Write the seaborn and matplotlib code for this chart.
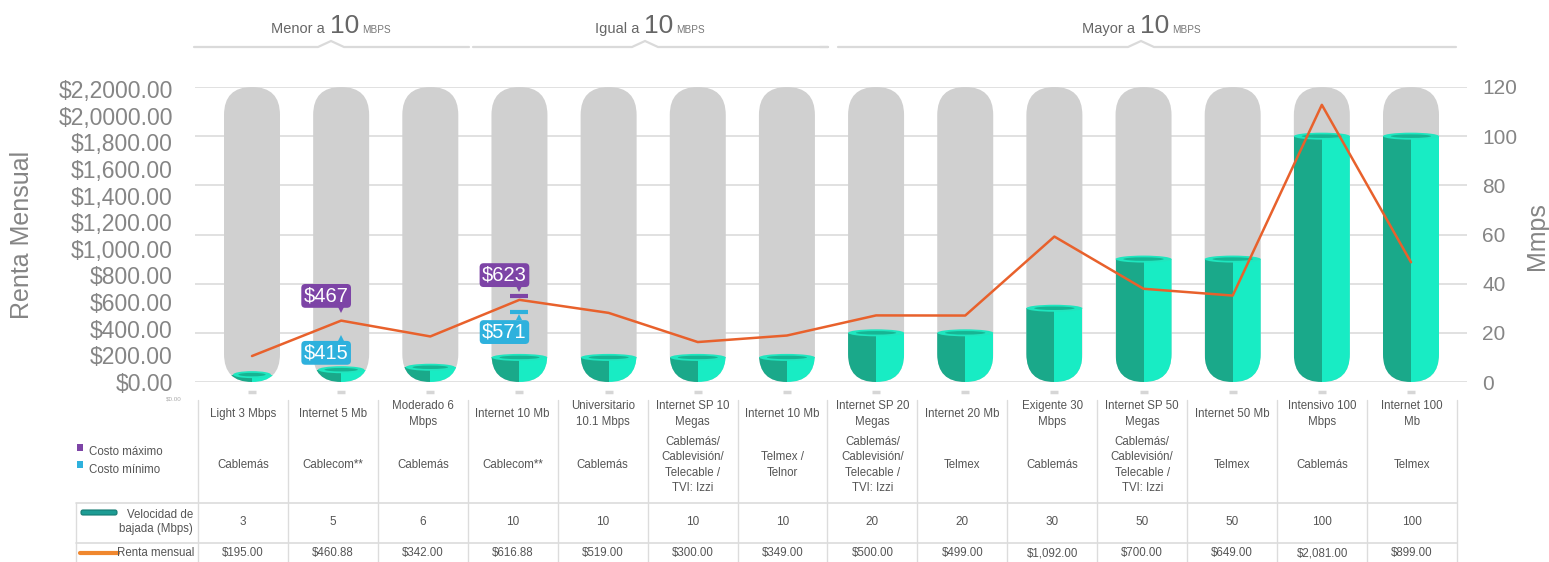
import numpy as np
import pandas as pd
import matplotlib
matplotlib.use("Agg")
import matplotlib.pyplot as plt
import matplotlib.transforms as mtransforms
import seaborn as sns
from matplotlib.patches import FancyBboxPatch, Ellipse, Rectangle

# ---- datos ----
planes = ["Light 3 Mbps", "Internet 5 Mb", "Moderado 6\nMbps", "Internet 10 Mb",
          "Universitario\n10.1 Mbps", "Internet SP 10\nMegas", "Internet 10 Mb",
          "Internet SP 20\nMegas", "Internet 20 Mb", "Exigente 30\nMbps",
          "Internet SP 50\nMegas", "Internet 50 Mb", "Intensivo 100\nMbps", "Internet 100\nMb"]
izzi = "Cablemás/\nCablevisión/\nTelecable /\nTVI: Izzi"
empresas = ["Cablemás", "Cablecom**", "Cablemás", "Cablecom**", "Cablemás", izzi,
            "Telmex /\nTelnor", izzi, "Telmex", "Cablemás", izzi, "Telmex", "Cablemás", "Telmex"]
velocidad = [3, 5, 6, 10, 10, 10, 10, 20, 20, 30, 50, 50, 100, 100]
renta = [195.00, 460.88, 342.00, 616.88, 519.00, 300.00, 349.00,
         500.00, 499.00, 1092.00, 700.00, 649.00, 2081.00, 899.00]
renta_txt = ["$195.00", "$460.88", "$342.00", "$616.88", "$519.00", "$300.00", "$349.00",
             "$500.00", "$499.00", "$1,092.00", "$700.00", "$649.00", "$2,081.00", "$899.00"]
costo_idx = [1, 3]
costo_max = ["$467", "$623"]
costo_min = ["$415", "$571"]
renta_ticks = [0, 200, 400, 600, 800, 1000, 1200, 1400, 1600, 1800, 2000, 2200]
renta_ticklabels = ["$0.00", "$200.00", "$400.00", "$600.00", "$800.00", "$1,000.00",
                    "$1,200.00", "$1,400.00", "$1,600.00", "$1,800.00", "$2,0000.00", "$2,2000.00"]
mbps_ticks = [0, 20, 40, 60, 80, 100, 120]
grupos = ["Menor a", "Igual a", "Mayor a"]

GRIS = "#d0d0d0"
OSCURO = "#1aa98a"
CLARO = "#18ecc4"
NARANJA = "#e8612c"
MORADO = "#7d44a6"
CIAN = "#2eb1dd"
TXT = "#858585"

sns.set_style("white")
plt.rcParams["font.family"] = ["Liberation Sans", "DejaVu Sans"]

W, H = 1549, 562
fig = plt.figure(figsize=(W / 100, H / 100), dpi=100)

# capa en pixeles para tabla y encabezados
ov = fig.add_axes([0, 0, 1, 1], zorder=0)
ov.set_xlim(0, W)
ov.set_ylim(H, 0)
ov.axis("off")

# ejes principales
x0, x1, ytop, ybot = 195, 1467, 87, 382
ax = fig.add_axes([x0 / W, 1 - ybot / H, (x1 - x0) / W, (ybot - ytop) / H], zorder=2)
ax.patch.set_alpha(0)
n = len(velocidad)
c_first, c_last = 252, 1411
pxx = (c_last - c_first) / (n - 1)
pxy = (ybot - ytop) / 120
bw = 56 / pxx
r_px = 28

df = pd.DataFrame({"pos": np.repeat(np.arange(n), 2),
                   "speed": np.repeat(velocidad, 2),
                   "lado": ["izq", "der"] * n})
sns.barplot(data=df, x="pos", y="speed", hue="lado", palette=[OSCURO, CLARO],
            width=bw, gap=0, dodge=True, saturation=1, errorbar=None,
            legend=False, ax=ax, zorder=3, linewidth=0)

ax.set_xlim((x0 - c_first) / pxx, (n - 1) + (x1 - c_last) / pxx)
ax.set_ylim(0, 120)

caps = []
for i in range(n):
    cap = FancyBboxPatch((i - bw / 2, 0), bw, 120,
                         boxstyle=f"round,pad=0,rounding_size={bw / 2}",
                         mutation_aspect=(r_px / pxy) / (bw / 2),
                         fc=GRIS, ec="none", zorder=2)
    ax.add_patch(cap)
    caps.append(cap)

for p in list(ax.patches):
    if isinstance(p, Rectangle) and not isinstance(p, FancyBboxPatch):
        idx = int(round(p.get_x() + p.get_width() / 2))
        p.set_clip_path(caps[idx])

for i, v in enumerate(velocidad):
    h = v * pxy
    half = np.sqrt(r_px ** 2 - (r_px - h) ** 2) if h < r_px else r_px
    wu = 2 * half / pxx
    ax.add_patch(Ellipse((i, v), wu, 7 / pxy, fc="#1fe6bf", ec="none", zorder=4))
    ax.add_patch(Ellipse((i, v), wu * 0.72, 3.5 / pxy, fc="#17b493", ec="none", zorder=4))

ax.plot(np.arange(n), [-4.2] * n, ls="none", marker="_", ms=6, mew=2.5,
        color="#d6d6d6", clip_on=False)

ax.set_yticks(mbps_ticks)
ax.set_xticks([])
ax.set_xlabel("")
ax.set_ylabel("")
ax.grid(axis="y", color="#dedede", lw=1.3)
ax.set_axisbelow(True)
for s in ax.spines.values():
    s.set_visible(False)

# eje de renta
ax2 = ax.twinx()
ax2.set_zorder(3)
sns.lineplot(x=np.arange(n), y=renta, ax=ax2, color=NARANJA, lw=1.8)
ax2.set_ylim(0, 2215)
ax2.set_yticks(renta_ticks, labels=renta_ticklabels)
ax2.yaxis.tick_left()
ax2.tick_params(axis="y", length=0, pad=16, labelsize=16.5, labelcolor=TXT)
ax.yaxis.tick_right()
ax.tick_params(axis="y", length=0, pad=11, labelsize=15, labelcolor=TXT)
ax2.grid(False)
for s in ax2.spines.values():
    s.set_visible(False)

# etiquetas de costo
def off(dy):
    return mtransforms.offset_copy(ax2.transData, fig=fig, x=0, y=dy, units="points")

for k, i in enumerate(costo_idx):
    y = renta[i]
    ax2.annotate(costo_max[k], (i, y), xytext=(-10.8, 17.8), textcoords="offset points",
                 ha="center", va="center", color="white", fontsize=14.5, zorder=6,
                 bbox=dict(boxstyle="round,pad=0.12,rounding_size=0.2", fc=MORADO, ec="none"))
    ax2.annotate(costo_min[k], (i, y), xytext=(-10.8, -23.2), textcoords="offset points",
                 ha="center", va="center", color="white", fontsize=14.5, zorder=6,
                 bbox=dict(boxstyle="round,pad=0.12,rounding_size=0.2", fc=CIAN, ec="none"))
    ax2.plot([i], [y], marker="v", ms=4.5, color=MORADO, mew=0,
             transform=off(7.8), zorder=6)
    ax2.plot([i], [y], marker="^", ms=4.5, color=CIAN, mew=0,
             transform=off(-12.5), zorder=6)
    if i == 3:
        ax2.plot([i], [y], marker="_", ms=13, mew=3, color=MORADO, transform=off(2.7), zorder=6)
        ax2.plot([i], [y], marker="_", ms=13, mew=3, color=CIAN, transform=off(-8.8), zorder=6)

# titulos de ejes
fig.text(22 / W, 1 - 235 / H, "Renta Mensual", rotation=90, ha="center", va="center",
         fontsize=18, color=TXT)
fig.text(1537 / W, 1 - 236 / H, "Mmps", rotation=90, ha="center", va="center",
         fontsize=18, color=TXT)

# encabezados de grupos
seg = [(194, 469, 331), (473, 828, 645), (838, 1456, 1141)]
for (a, b, c), g in zip(seg, grupos):
    ov.plot([a, c - 13, c, c + 13, b], [47, 47, 41, 47, 47], color="#dadada", lw=1.6,
            solid_joinstyle="miter")
    ov.text(c - 6, 33, g, ha="right", va="baseline", fontsize=10.5, color="#666666")
    ov.text(c - 1, 33, "10", ha="left", va="baseline", fontsize=19, color="#666666")
    ov.text(c + 31, 33, "MBPS", ha="left", va="baseline", fontsize=7.2, color="#777777")
ov.plot([820, 828], [47, 47], color="#dadada", lw=1.6)

# tabla
LN = "#dcdcdc"
TT = "#555555"
cw = (1457 - 198) / n
for k in range(n + 1):
    ov.plot([198 + cw * k] * 2, [400, 562], color=LN, lw=1)
for yy in (503, 543):
    ov.plot([76, 1457], [yy, yy], color=LN, lw=1.2)
ov.plot([76, 76], [503, 562], color=LN, lw=1)

for k in range(n):
    cx = 198 + cw * (k + 0.5)
    ov.text(cx, 414, planes[k], ha="center", va="center", fontsize=8.3,
            color=TT, linespacing=1.35)
    ov.text(cx, 465, empresas[k], ha="center", va="center", fontsize=8.3,
            color=TT, linespacing=1.35)
    ov.text(cx, 522, str(velocidad[k]), ha="center", va="center", fontsize=8.5, color=TT)
    ov.text(cx, 553, renta_txt[k], ha="center", va="center", fontsize=8.3, color=TT)

ov.add_patch(Rectangle((77, 444), 6, 7, fc=MORADO, ec="none"))
ov.add_patch(Rectangle((77, 461), 6, 7, fc=CIAN, ec="none"))
ov.text(89, 452, "Costo máximo", ha="left", va="center", fontsize=8.3, color=TT)
ov.text(89, 470, "Costo mínimo", ha="left", va="center", fontsize=8.3, color=TT)
ov.add_patch(FancyBboxPatch((81, 510), 36, 5, boxstyle="round,pad=0,rounding_size=2",
                            fc="#1d9c94", ec="#137a72", lw=0.8))
ov.text(193, 522, "Velocidad de\nbajada (Mbps)", ha="right", va="center", fontsize=8.3,
        color=TT, linespacing=1.3)
ov.plot([80, 118], [553, 553], color="#f0872e", lw=3, solid_capstyle="round")
ov.text(194, 553, "Renta mensual", ha="right", va="center", fontsize=8.3, color=TT)
ov.text(174, 399, "$0.00", ha="center", va="center", fontsize=4.5, color="#aaaaaa")

fig.savefig("out.png", dpi=100)
